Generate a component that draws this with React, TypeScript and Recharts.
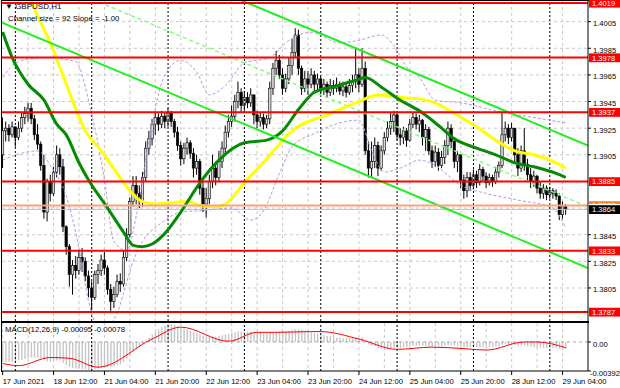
import {
  ComposedChart,
  Bar,
  Line,
  XAxis,
  YAxis,
  CartesianGrid,
  ReferenceLine,
} from "recharts";

// ── Data ──────────────────────────────────────────────────────────────────────

const TIME_LABELS = [
  "17 Jun 2021",
  "18 Jun 12:00",
  "21 Jun 04:00",
  "21 Jun 20:00",
  "22 Jun 12:00",
  "23 Jun 04:00",
  "23 Jun 20:00",
  "24 Jun 12:00",
  "25 Jun 04:00",
  "25 Jun 20:00",
  "28 Jun 12:00",
  "29 Jun 04:00",
];
const LABEL_STEP = 16;
const GRID_BARS = [0, 8, 16, 24, 32, 40, 48, 56, 64, 72, 80, 88, 96, 104, 112, 120, 128, 136, 144, 152, 160, 168, 176];
const DAY_STARTS = [4, 28, 52, 76, 100, 124, 148, 172];

const GRID_PRICES = [1.3785, 1.3805, 1.3825, 1.3845, 1.3865, 1.3885, 1.3905, 1.3925, 1.3945, 1.3965, 1.3985, 1.4005];
// scale labels that are not covered by a price tag
const PRICE_TICKS = [1.3785, 1.3805, 1.3825, 1.3845, 1.3905, 1.3925, 1.3945, 1.3965, 1.3985, 1.4005];
const LEVELS = [1.4019, 1.3978, 1.3937, 1.3885, 1.3833, 1.3787];
const ORANGE_LEVEL = 1.3867;
const LAST_PRICE = 1.3864;

// equidistant channel: lower line at bar 0, width and slope (price per bar)
const CHANNEL_LOW_AT_0 = 1.4004;
const CHANNEL_SIZE = 0.0092;
const CHANNEL_SLOPE = -0.0001;

const FIRST_OPEN = 1.3905;
const CLOSE = [
  1.3923, 1.3925, 1.392, 1.3926, 1.3918, 1.3925, 1.3933, 1.3936, 1.394, 1.3932,
  1.392, 1.3913, 1.3897, 1.3862, 1.3885, 1.3876, 1.3892, 1.3905, 1.3896, 1.3851,
  1.3836, 1.3815, 1.3822, 1.3818, 1.3828, 1.3825, 1.3814, 1.3805, 1.3798, 1.3815,
  1.3818, 1.3826, 1.382, 1.3804, 1.3795, 1.38, 1.381, 1.3808, 1.3828, 1.3845,
  1.387, 1.3882, 1.3876, 1.387, 1.3888, 1.391, 1.3917, 1.3928, 1.3933, 1.3928,
  1.3934, 1.393, 1.3936, 1.393, 1.3922, 1.3912, 1.3902, 1.391, 1.3914, 1.3906,
  1.3895, 1.39, 1.388, 1.3868, 1.3872, 1.3885, 1.3895, 1.3888, 1.39, 1.391,
  1.3922, 1.393, 1.3934, 1.3945, 1.3952, 1.3942, 1.3948, 1.3944, 1.395, 1.3935,
  1.393, 1.3933, 1.3928, 1.3932, 1.3955, 1.397, 1.3976, 1.3965, 1.3955, 1.3962,
  1.3972, 1.3982, 1.3995, 1.397, 1.3955, 1.3962, 1.3958, 1.3965, 1.3958, 1.3962,
  1.3955, 1.3958, 1.3952, 1.3957, 1.3955, 1.3958, 1.3953, 1.3956, 1.3952, 1.3957,
  1.396, 1.3965, 1.3958, 1.397, 1.3908, 1.3895, 1.39, 1.3912, 1.3895, 1.3908,
  1.3918, 1.3925, 1.393, 1.3935, 1.392, 1.3918, 1.3923, 1.3916, 1.3928, 1.3933,
  1.3928, 1.3931, 1.3918, 1.3924, 1.3908, 1.39, 1.3907, 1.3897, 1.3903, 1.3912,
  1.3925, 1.3915, 1.39, 1.3905, 1.3886, 1.3878, 1.3888, 1.3882, 1.389, 1.3884,
  1.3894, 1.3889, 1.3884, 1.3888, 1.3885, 1.3892, 1.3897, 1.392, 1.3925, 1.3918,
  1.3925, 1.3905, 1.3895, 1.3908, 1.3898, 1.389, 1.3885, 1.3889, 1.388, 1.3876,
  1.388, 1.3875, 1.3878, 1.3876, 1.3874, 1.386, 1.3866, 1.3864,
];
const HIGH = [
  1.3933, 1.393, 1.3928, 1.393, 1.3926, 1.393, 1.3937, 1.3941, 1.3944, 1.3944,
  1.3935, 1.3928, 1.3915, 1.3905, 1.3887, 1.389, 1.3896, 1.3912, 1.391, 1.3902,
  1.3852, 1.3838, 1.3826, 1.3829, 1.3833, 1.3835, 1.3828, 1.3818, 1.381, 1.3818,
  1.3823, 1.383, 1.3832, 1.3822, 1.3808, 1.3806, 1.3815, 1.3816, 1.3833, 1.385,
  1.3873, 1.3889, 1.3889, 1.3882, 1.3892, 1.3915, 1.3923, 1.3932, 1.3937, 1.3936,
  1.3938, 1.3937, 1.394, 1.3938, 1.3932, 1.3926, 1.3915, 1.3914, 1.3918, 1.3916,
  1.391, 1.3905, 1.3902, 1.3885, 1.388, 1.389, 1.3905, 1.39, 1.3908, 1.3915,
  1.3927, 1.3935, 1.3942, 1.395, 1.396, 1.3955, 1.3953, 1.3952, 1.3955, 1.395,
  1.3938, 1.3937, 1.3936, 1.3935, 1.396, 1.3974, 1.3983, 1.398, 1.397, 1.3966,
  1.3978, 1.3992, 1.4, 1.3999, 1.3972, 1.3968, 1.3968, 1.397, 1.3968, 1.3966,
  1.3964, 1.3962, 1.396, 1.3962, 1.3961, 1.3963, 1.396, 1.396, 1.3958, 1.3962,
  1.3965, 1.3985, 1.397, 1.3985, 1.3975, 1.3915, 1.3915, 1.3918, 1.3915, 1.3912,
  1.3922, 1.393, 1.3937, 1.3938, 1.3937, 1.3925, 1.3926, 1.3925, 1.3932, 1.3937,
  1.3936, 1.3935, 1.3932, 1.3928, 1.3926, 1.3912, 1.3912, 1.391, 1.3908, 1.3916,
  1.393, 1.3928, 1.3918, 1.3908, 1.3905, 1.389, 1.3892, 1.3892, 1.3894, 1.3893,
  1.3898, 1.3896, 1.3892, 1.3891, 1.389, 1.3896, 1.39, 1.3937, 1.393, 1.3928,
  1.3929, 1.3925, 1.391, 1.3912, 1.3925, 1.3902, 1.3895, 1.3893, 1.389, 1.3885,
  1.3883, 1.3882, 1.3881, 1.388, 1.3879, 1.3876, 1.387, 1.3868,
];
const LOW = [
  1.3895, 1.3915, 1.3915, 1.3918, 1.3911, 1.3916, 1.3922, 1.3928, 1.393, 1.3928,
  1.3916, 1.3909, 1.3893, 1.3857, 1.3855, 1.387, 1.3874, 1.3888, 1.389, 1.3847,
  1.383, 1.3806, 1.38, 1.3812, 1.3815, 1.3817, 1.381, 1.3798, 1.3788, 1.3796,
  1.3808, 1.3814, 1.3815, 1.38, 1.3786, 1.379, 1.3798, 1.3802, 1.3806, 1.3825,
  1.3843, 1.3866, 1.3868, 1.3865, 1.3866, 1.3885, 1.3905, 1.3912, 1.392, 1.3923,
  1.3925, 1.3925, 1.3926, 1.3926, 1.3918, 1.3908, 1.3897, 1.3898, 1.3905, 1.3902,
  1.3888, 1.389, 1.3875, 1.3862, 1.3858, 1.3868, 1.388, 1.3882, 1.3885, 1.3895,
  1.3905, 1.3918, 1.3926, 1.393, 1.394, 1.3937, 1.3938, 1.394, 1.3941, 1.3928,
  1.3925, 1.3926, 1.3924, 1.3925, 1.3928, 1.395, 1.3965, 1.3962, 1.395, 1.3952,
  1.3958, 1.3965, 1.3978, 1.3965, 1.395, 1.3952, 1.395, 1.3955, 1.3953, 1.3952,
  1.395, 1.395, 1.3948, 1.3949, 1.395, 1.3952, 1.395, 1.3949, 1.3948, 1.395,
  1.3952, 1.3955, 1.3952, 1.3956, 1.3905, 1.3888, 1.3888, 1.3895, 1.3889, 1.3893,
  1.3905, 1.3915, 1.392, 1.3922, 1.3916, 1.3912, 1.3913, 1.3911, 1.3915, 1.3925,
  1.3924, 1.3922, 1.3912, 1.3908, 1.3905, 1.3895, 1.3896, 1.3893, 1.3895, 1.3898,
  1.3905, 1.391, 1.3895, 1.3892, 1.388, 1.3872, 1.3873, 1.3878, 1.3879, 1.388,
  1.3882, 1.3885, 1.388, 1.3882, 1.3881, 1.3883, 1.3888, 1.3895, 1.3915, 1.3913,
  1.3915, 1.39, 1.3889, 1.3892, 1.3893, 1.3886, 1.388, 1.3881, 1.3876, 1.3872,
  1.3872, 1.3871, 1.3872, 1.3872, 1.3871, 1.3856, 1.3857, 1.386,
];

// moving averages, read at sample bars: [bar, price]
const YELLOW_MA: [number, number][] = [
  [6, 1.4039], [10, 1.40145], [15, 1.3989], [20, 1.3958], [26, 1.3923], [31, 1.3908],
  [36, 1.3891], [40, 1.3878], [43, 1.3871], [48, 1.3868], [53, 1.3869], [58, 1.387],
  [62, 1.3867], [67, 1.3866], [70, 1.3868], [76, 1.3884], [83, 1.3902], [91, 1.3923],
  [103, 1.3936], [111, 1.3944], [118, 1.395], [125, 1.3948], [131, 1.3947], [136, 1.3944],
  [142, 1.3936], [149, 1.3926], [155, 1.3916], [161, 1.3908], [167, 1.3905], [174, 1.3899],
  [177, 1.3895],
];
const GREEN_MA: [number, number][] = [
  [0, 1.39972], [3, 1.3978], [8, 1.3958], [13, 1.3946], [17, 1.3928], [20, 1.392],
  [24, 1.3899], [27, 1.3886], [33, 1.3865], [38, 1.3847], [41, 1.3837], [44, 1.3836],
  [47, 1.3838], [51, 1.3846], [56, 1.3862], [62, 1.3884], [68, 1.3901], [76, 1.3914],
  [83, 1.3916], [88, 1.3923], [93, 1.3939], [98, 1.3952], [104, 1.3956], [111, 1.3961],
  [114, 1.3963], [119, 1.3956], [125, 1.3946], [131, 1.3938], [138, 1.3925], [142, 1.3917],
  [149, 1.391], [155, 1.3905], [161, 1.3899], [167, 1.3896], [174, 1.3891], [177, 1.3888],
];
const BAND_UP: [number, number][] = [
  [0, 1.3963], [5, 1.3975], [13, 1.3978], [23, 1.3975], [27, 1.3946], [32, 1.3886],
  [35, 1.384], [39, 1.3833], [42, 1.3859], [46, 1.3916], [51, 1.3965], [56, 1.3976],
  [61, 1.3967], [65, 1.395], [70, 1.3957], [76, 1.3974], [84, 1.3978], [90, 1.3991],
  [97, 1.3997], [106, 1.3989], [112, 1.3991], [119, 1.3995], [123, 1.3987], [127, 1.3971],
  [131, 1.3963], [136, 1.3946], [144, 1.3944], [157, 1.3937], [167, 1.3933], [177, 1.3929],
];
const BAND_LOW: [number, number][] = [
  [0, 1.3901], [11, 1.3908], [15, 1.3897], [20, 1.3874], [24, 1.3835], [27, 1.3795],
  [31, 1.3773], [36, 1.3786], [38, 1.3801], [41, 1.3825], [44, 1.384], [50, 1.3854],
  [56, 1.3862], [62, 1.3863], [72, 1.3865], [78, 1.3856], [82, 1.3863], [87, 1.3891],
  [91, 1.3911], [98, 1.3921], [106, 1.3929], [112, 1.3931], [116, 1.3908], [120, 1.3892],
  [125, 1.3895], [131, 1.3901], [136, 1.3897], [144, 1.3882], [152, 1.3876], [162, 1.3871],
  [173, 1.3865], [177, 1.385],
];

const MACD_HIST = [
  -0.0027, -0.0027, -0.0027, -0.0027, -0.0026, -0.0025, -0.0024, -0.0023, -0.0022, -0.0021,
  -0.0021, -0.0021, -0.0022, -0.0025, -0.0026, -0.0027, -0.0026, -0.0025, -0.0025, -0.0028,
  -0.0031, -0.0034, -0.0035, -0.0036, -0.0036, -0.0036, -0.0037, -0.0038, -0.0038, -0.0037,
  -0.0036, -0.0035, -0.0034, -0.0034, -0.0034, -0.0033, -0.0031, -0.003, -0.0027, -0.0023,
  -0.0018, -0.0013, -0.001, -0.0007, -0.0003, 0.0002, 0.0006, 0.001, 0.0014, 0.0017,
  0.002, 0.0022, 0.0024, 0.0024, 0.0023, 0.0021, 0.0019, 0.0018, 0.0017, 0.0015,
  0.0013, 0.0012, 0.001, 0.0008, 0.0007, 0.0007, 0.0007, 0.0007, 0.0008, 0.0009,
  0.001, 0.0011, 0.0012, 0.0013, 0.0014, 0.0014, 0.0014, 0.0014, 0.0014, 0.0013,
  0.0012, 0.0012, 0.0011, 0.0011, 0.0012, 0.0013, 0.0014, 0.0014, 0.0014, 0.0014,
  0.0015, 0.0016, 0.0017, 0.0017, 0.0016, 0.0015, 0.0014, 0.0013, 0.0012, 0.0011,
  0.001, 0.0009, 0.0008, 0.0008, 0.0007, 0.0006, 0.0006, 0.0005, 0.0005, 0.0005,
  0.0005, 0.0006, 0.0005, 0.0006, 0.0, -0.0003, -0.0005, -0.0006, -0.0008, -0.0009,
  -0.0009, -0.0009, -0.0009, -0.0008, -0.0008, -0.0008, -0.0007, -0.0007, -0.0006, -0.0005,
  -0.0005, -0.0005, -0.0005, -0.0005, -0.0006, -0.0006, -0.0006, -0.0006, -0.0006, -0.0005,
  -0.0004, -0.0004, -0.0005, -0.0005, -0.0006, -0.0007, -0.0007, -0.0007, -0.0007, -0.0007,
  -0.0007, -0.0007, -0.0007, -0.0007, -0.0007, -0.0006, -0.0006, -0.0004, -0.0003, -0.0003,
  -0.0003, -0.0004, -0.0005, -0.0005, -0.0005, -0.0006, -0.0006, -0.0007, -0.0007, -0.0008,
  -0.0008, -0.0008, -0.0008, -0.0008, -0.0008, -0.0009, -0.001, -0.00095,
];
const MACD_SIGNAL: [number, number][] = [
  [0, -0.0029], [5, -0.0032], [15, -0.0021], [21, -0.0022], [30, -0.0034], [47, 0.0004],
  [56, 0.002], [71, 0.0001], [80, 0.0013], [86, 0.0013], [97, 0.0014], [100, 0.0014],
  [112, 0.0004], [124, -0.001], [135, -0.0007], [145, -0.0009], [152, -0.0011], [164, 0.0],
  [168, 0.0], [177, -0.00078],
];
const MACD_MAX = 0.00256;
const MACD_MIN = -0.00392;

// ── Rows ──────────────────────────────────────────────────────────────────────

type Row = Record<string, any>;

const rows: Row[] = CLOSE.map((c, i) => {
  const o = i === 0 ? FIRST_OPEN : CLOSE[i - 1];
  const h = Math.max(HIGH[i], o, c);
  const l = Math.min(LOW[i], o, c);
  return { i, o, c, h, l, range: [l, h], hist: MACD_HIST[i] };
});

function addSparse(key: string, pts: [number, number][]) {
  pts.forEach(([i, v]) => {
    rows[i][key] = v;
  });
}
addSparse("yellow", YELLOW_MA);
addSparse("green", GREEN_MA);
addSparse("bandUp", BAND_UP);
addSparse("bandLow", BAND_LOW);
addSparse("signal", MACD_SIGNAL);

const X_DOMAIN: [number, number] = [-0.2, 184];
const Y_DOMAIN: [number, number] = [1.37802, 1.40205];
const FONT = "'Liberation Sans', Arial, sans-serif";

const channel = (offset: number) => [
  { x: X_DOMAIN[0], y: CHANNEL_LOW_AT_0 + offset + CHANNEL_SLOPE * X_DOMAIN[0] },
  { x: X_DOMAIN[1], y: CHANNEL_LOW_AT_0 + offset + CHANNEL_SLOPE * X_DOMAIN[1] },
];

// ── Shapes ────────────────────────────────────────────────────────────────────

function Candle(props: any) {
  const { x, y, width, height, payload } = props;
  if (!payload || height == null) return null;
  const { o, c, h, l } = payload;
  const span = h - l || 1;
  const py = (v: number) => y + ((h - v) / span) * height;
  const cx = x + width / 2;
  const top = py(Math.max(o, c));
  const bot = py(Math.min(o, c));
  const up = c >= o;
  return (
    <g>
      <line x1={cx} x2={cx} y1={y} y2={y + height} stroke="#000" strokeWidth={1} />
      <rect
        x={cx - 1.2}
        y={top}
        width={2.4}
        height={Math.max(bot - top, 0.8)}
        fill={up ? "#d8d8d8" : "#000"}
        stroke="#000"
        strokeWidth={0.6}
      />
    </g>
  );
}

// price tag on the right scale; `peek` keeps only the upper strip of the text
// (the orange tag sits under the last-price tag)
function PriceTag(props: any) {
  const { viewBox, text, bg, fg, peek } = props;
  if (!viewBox) return null;
  const left = viewBox.x + viewBox.width + 1;
  const y = viewBox.y;
  const id = `tag-${text}`;
  return (
    <g>
      {peek && (
        <defs>
          <clipPath id={id}>
            <rect x={left} y={y - 5} width={31} height={3.5} />
          </clipPath>
        </defs>
      )}
      <rect x={left} y={y - 4.2} width={31} height={8.8} fill={bg} clipPath={peek ? `url(#${id})` : undefined} />
      <text
        x={left + 3}
        y={y + 3}
        fill={fg}
        fontSize={7.6}
        fontFamily={FONT}
        clipPath={peek ? `url(#${id})` : undefined}
      >
        {text}
      </text>
    </g>
  );
}

function PriceTick(props: any) {
  const { x, y, payload } = props;
  const v: number = payload.value;
  // the lowest scale label sits half under the 1.3787 tag, only its lower part shows
  const hidden = v === GRID_PRICES[0];
  const id = `clip-${v}`;
  return (
    <g>
      {hidden && (
        <defs>
          <clipPath id={id}>
            <rect x={x - 2} y={y + 2.5} width={40} height={10} />
          </clipPath>
        </defs>
      )}
      <text
        x={x}
        y={y + 4.4}
        fontSize={7.6}
        fontFamily={FONT}
        fill="#000"
        clipPath={hidden ? `url(#${id})` : undefined}
      >
        {v.toFixed(4)}
      </text>
    </g>
  );
}

function MacdTick(props: any) {
  const { x, y, payload } = props;
  const v = payload.value;
  const label = v === 0 ? "0.00" : v.toFixed(5);
  return (
    <text x={v < 0 ? x - 3 : x} y={y + 5} fontSize={7.6} fontFamily={FONT} fill="#000">
      {label}
    </text>
  );
}

function TimeTick(props: any) {
  const { x, y, payload } = props;
  const label = TIME_LABELS[Math.round(payload.value / LABEL_STEP)];
  return (
    <text x={x} y={y + 7} fontSize={7.6} fontFamily={FONT} fill="#000">
      {label}
    </text>
  );
}

// ── Chart ─────────────────────────────────────────────────────────────────────

export default function App() {
  const labelTicks = TIME_LABELS.map((_, k) => k * LABEL_STEP);
  return (
    <div
      style={{
        position: "fixed",
        left: 0,
        top: 0,
        width: 620,
        height: 388,
        background: "#fff",
        overflow: "hidden",
        fontFamily: FONT,
      }}
    >
      <ComposedChart
        width={620}
        height={321}
        data={rows}
        margin={{ top: 1, right: 0, bottom: 0, left: 2 }}
        style={{ position: "absolute", left: 0, top: 0 }}
      >
        <CartesianGrid
          stroke="#c8c8c8"
          strokeDasharray="3 3"
          verticalValues={GRID_BARS}
          horizontalValues={GRID_PRICES}
        />
        <XAxis dataKey="i" type="number" domain={X_DOMAIN} allowDataOverflow hide />
        <YAxis
          orientation="right"
          width={32}
          domain={Y_DOMAIN}
          allowDataOverflow
          ticks={PRICE_TICKS}
          tick={<PriceTick />}
          tickSize={3}
          tickLine={{ stroke: "#000" }}
          axisLine={{ stroke: "#000" }}
        />
        {DAY_STARTS.map((d) => (
          <ReferenceLine key={`d${d}`} x={d} stroke="#000" strokeDasharray="2 2" />
        ))}
        <ReferenceLine y={LAST_PRICE} stroke="#c0c0c0" strokeWidth={1} />
        <Line dataKey="bandUp" stroke="#bd94e6" strokeWidth={1} strokeDasharray="3 2" dot={false} connectNulls type="monotone" isAnimationActive={false} />
        <Line dataKey="bandLow" stroke="#bd94e6" strokeWidth={1} strokeDasharray="3 2" dot={false} connectNulls type="monotone" isAnimationActive={false} />
        <ReferenceLine segment={channel(CHANNEL_SIZE / 2)} stroke="#7dff7d" strokeWidth={1.4} strokeDasharray="4 3" ifOverflow="hidden" />
        <Bar dataKey="range" barSize={3} shape={<Candle />} isAnimationActive={false} />
        <Line dataKey="yellow" stroke="#ffff00" strokeWidth={3} dot={false} connectNulls type="monotone" isAnimationActive={false} />
        <Line dataKey="green" stroke="#058a05" strokeWidth={3} dot={false} connectNulls type="monotone" isAnimationActive={false} />
        <ReferenceLine segment={channel(0)} stroke="#22ee22" strokeWidth={2} ifOverflow="hidden" />
        <ReferenceLine segment={channel(CHANNEL_SIZE)} stroke="#22ee22" strokeWidth={2} ifOverflow="hidden" />
        <ReferenceLine
          y={ORANGE_LEVEL}
          stroke="#ffa07a"
          strokeWidth={2}
          label={<PriceTag text={ORANGE_LEVEL.toFixed(4)} bg="#ff7f2a" fg="#fff" peek />}
        />
        {LEVELS.map((p) => (
          <ReferenceLine
            key={p}
            y={p}
            stroke="#ff0000"
            strokeWidth={2}
            label={<PriceTag text={p.toFixed(4)} bg="#ff0000" fg="#fff" />}
          />
        ))}
        <ReferenceLine
          y={LAST_PRICE}
          stroke="none"
          label={<PriceTag text={LAST_PRICE.toFixed(4)} bg="#000" fg="#fff" />}
        />
      </ComposedChart>

      <ComposedChart
        width={620}
        height={65}
        data={rows}
        margin={{ top: 1, right: 0, bottom: 0, left: 2 }}
        style={{ position: "absolute", left: 0, top: 322 }}
      >
        <CartesianGrid stroke="#c8c8c8" strokeDasharray="3 3" verticalValues={GRID_BARS} horizontal={false} />
        <XAxis
          dataKey="i"
          type="number"
          domain={X_DOMAIN}
          allowDataOverflow
          ticks={labelTicks}
          tick={<TimeTick />}
          tickSize={4}
          height={16}
          interval={0}
          tickLine={{ stroke: "#000" }}
          axisLine={{ stroke: "#000" }}
        />
        <YAxis
          orientation="right"
          width={32}
          domain={[MACD_MIN, MACD_MAX]}
          allowDataOverflow
          ticks={[MACD_MAX, 0, MACD_MIN]}
          tick={<MacdTick />}
          tickSize={3}
          tickLine={{ stroke: "#000" }}
          axisLine={{ stroke: "#000" }}
        />
        {DAY_STARTS.map((d) => (
          <ReferenceLine key={`m${d}`} x={d} stroke="#000" strokeDasharray="2 2" />
        ))}
        <ReferenceLine y={0} stroke="#a8a8a8" strokeDasharray="3 3" />
        <Bar dataKey="hist" fill="#c6c6c6" barSize={1.4} isAnimationActive={false} />
        <Line dataKey="signal" stroke="#ff0000" strokeWidth={1} dot={false} connectNulls type="monotone" isAnimationActive={false} />
      </ComposedChart>

      {/* panel frames */}
      <div style={{ position: "absolute", left: 1, top: 0, width: 1, height: 372, background: "#000" }} />
      <div style={{ position: "absolute", left: 1, top: 0, width: 588, height: 1, background: "#000" }} />
      <div style={{ position: "absolute", left: 1, top: 321, width: 588, height: 2, background: "#000" }} />

      <div style={{ position: "absolute", left: 5, top: 2, fontSize: 8, lineHeight: "10px", whiteSpace: "nowrap", color: "#000" }}>
        ▼ GBPUSD,H1
      </div>
      <div style={{ position: "absolute", left: 8, top: 14, fontSize: 7.8, lineHeight: "10px", whiteSpace: "nowrap", color: "#000" }}>
        Channel size = 92 Slope = -1.00
      </div>
      <div style={{ position: "absolute", left: 5, top: 325, fontSize: 7.8, lineHeight: "10px", whiteSpace: "nowrap", color: "#000" }}>
        MACD(12,26,9) -0.00095 -0.00078
      </div>
    </div>
  );
}
